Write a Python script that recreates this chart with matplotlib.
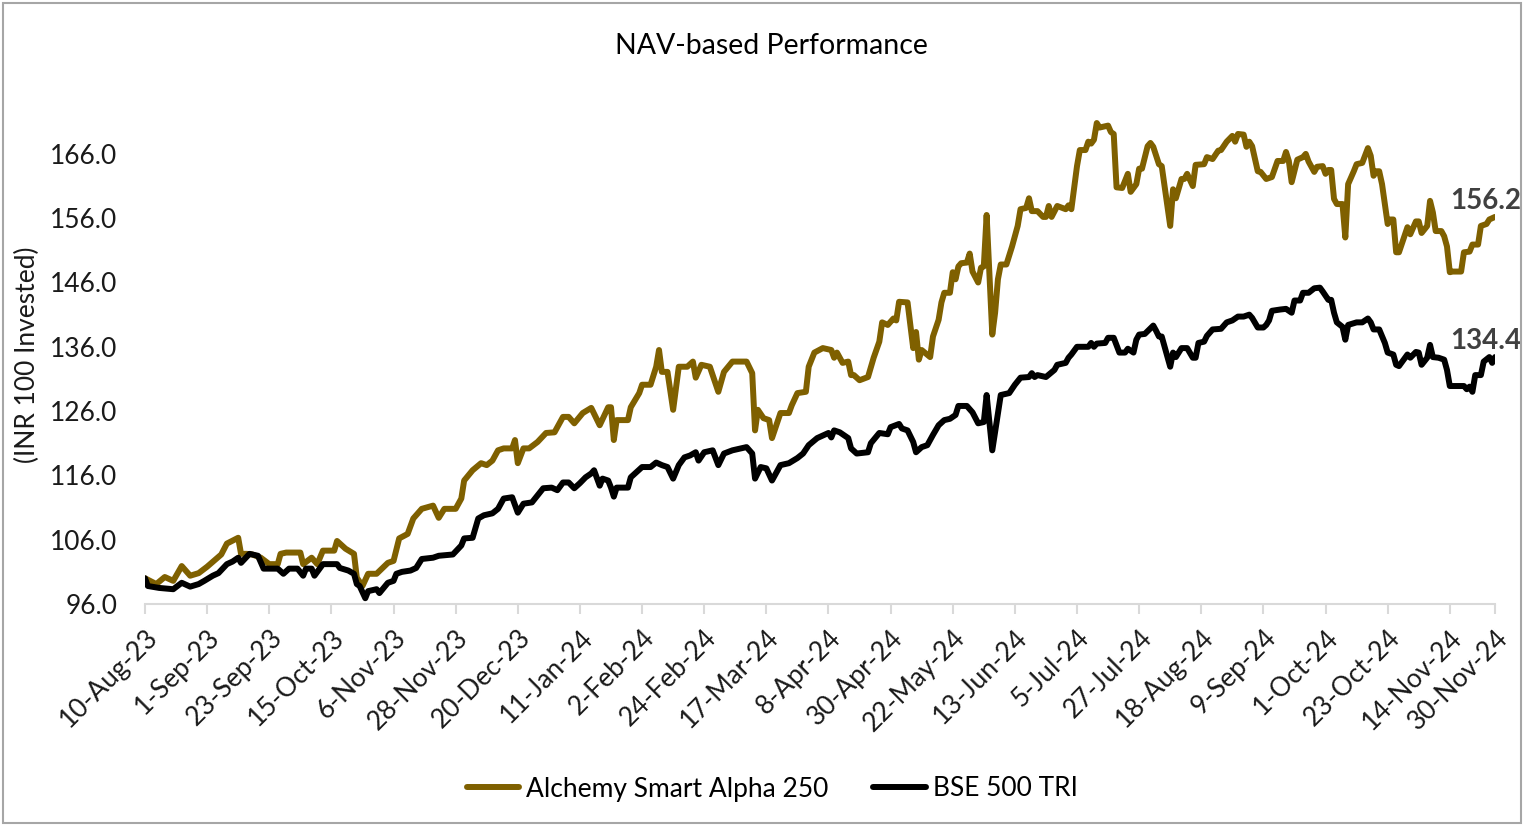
import pandas as pd
import matplotlib
matplotlib.use("Agg")
from matplotlib import pyplot as plt
from matplotlib.patches import Rectangle

plt.rcParams['font.family'] = ['Lato', 'DejaVu Sans']

# ---- data (days counted from the first date) ----
start_date = "10-Aug-23"

alpha_days = [0, 4, 7, 10, 13, 16, 19, 22, 27, 29, 33, 34, 36, 38, 41, 44, 47, 48, 50, 55,
              56, 59, 61, 63, 67, 68, 71, 74, 75, 77, 79, 82, 86, 88, 90, 93, 95, 98, 102, 104,
              106, 110, 112, 113, 116, 119, 121, 123, 125, 127, 130, 131, 132, 134, 136, 139, 142, 145, 148, 150,
              152, 155, 158, 161, 164, 165, 166, 167, 171, 172, 175, 176, 179, 181, 182, 183, 185, 187, 189, 192,
              194, 195, 197, 200, 203, 205, 208, 213, 215, 216, 217, 219, 221, 222, 225, 228, 229, 231, 234, 235,
              237, 240, 243, 244, 245, 247, 249, 250, 251, 253, 256, 258, 260, 261, 263, 265, 266, 267, 270, 272,
              273, 274, 275, 278, 279, 281, 282, 283, 285, 286, 287, 288, 289, 291, 292, 293, 295, 296, 297, 298,
              300, 301, 302, 303, 305, 307, 309, 310, 312, 313, 314, 316, 318, 319, 320, 321, 323, 326, 327, 328,
              330, 331, 333, 334, 335, 336, 337, 338, 341, 342, 343, 344, 346, 348, 349, 351, 352, 353, 355, 356,
              357, 359, 360, 363, 364, 365, 367, 368, 369, 371, 372, 375, 376, 378, 380, 381, 383, 385, 386, 387,
              389, 390, 391, 392, 394, 395, 397, 399, 401, 403, 404, 405, 406, 408, 410, 411, 412, 414, 415, 417,
              418, 419, 420, 421, 422, 424, 425, 426, 428, 429, 431, 433, 434, 435, 436, 437, 438, 440, 441, 442,
              443, 444, 447, 448, 450, 451, 452, 454, 455, 456, 457, 459, 460, 461, 462, 463, 466, 467, 469, 470,
              472, 473, 475, 476, 477, 478]
alpha_vals = [100.0, 99.1, 100.2, 99.6, 101.9, 100.4, 100.8, 101.8, 103.7, 105.4, 106.3, 103.8, 103.8, 103.7, 103.2, 102.2, 102.2, 103.8, 104.0, 104.0,
              102.2, 103.2, 102.2, 104.3, 104.3, 105.8, 104.6, 103.8, 100.1, 98.8, 100.7, 100.7, 102.4, 102.7, 106.2, 106.9, 109.3, 110.8, 111.3, 109.4,
              110.8, 110.8, 112.4, 115.2, 116.8, 117.9, 117.6, 118.3, 119.9, 120.2, 120.2, 121.5, 117.9, 120.2, 120.2, 121.2, 122.6, 122.7, 125.1, 125.1,
              124.1, 125.7, 126.5, 123.8, 126.6, 126.6, 121.5, 124.6, 124.6, 126.6, 128.8, 130.1, 130.1, 132.9, 135.5, 132.1, 132.1, 126.2, 132.9, 132.9,
              133.7, 131.2, 133.2, 132.9, 129.0, 132.1, 133.7, 133.7, 131.9, 123.0, 126.2, 124.9, 124.6, 121.8, 125.7, 125.7, 126.9, 128.8, 129.0, 132.9,
              135.1, 135.8, 135.5, 134.3, 135.1, 133.5, 133.7, 131.6, 131.6, 130.8, 131.3, 134.3, 136.8, 139.8, 139.4, 140.4, 140.1, 143.0, 142.9, 135.8,
              138.3, 134.0, 135.5, 134.4, 137.6, 140.2, 142.9, 144.4, 144.4, 147.6, 146.5, 148.5, 149.0, 149.1, 150.5, 147.7, 146.0, 148.3, 148.5, 156.5,
              137.9, 141.3, 146.5, 148.8, 148.8, 151.6, 154.8, 157.4, 157.6, 159.1, 157.1, 157.1, 156.2, 156.2, 157.9, 156.2, 157.9, 157.4, 158.0, 157.4,
              164.1, 166.6, 166.6, 167.9, 167.6, 168.2, 170.8, 170.1, 170.4, 169.4, 169.1, 160.8, 160.7, 162.9, 160.1, 161.3, 163.7, 163.7, 167.2, 167.7,
              167.1, 164.4, 164.1, 154.8, 160.5, 159.1, 162.1, 162.1, 162.9, 161.0, 164.3, 164.4, 165.5, 165.2, 166.5, 166.6, 167.9, 168.8, 167.9, 169.1,
              169.0, 167.1, 167.9, 167.2, 163.3, 163.2, 162.1, 162.4, 164.9, 164.9, 166.3, 164.9, 161.6, 165.1, 165.5, 166.0, 164.8, 163.2, 164.0, 164.1,
              162.9, 163.5, 163.5, 159.0, 158.2, 158.2, 153.0, 161.3, 163.3, 164.4, 164.6, 166.9, 165.7, 162.6, 163.3, 163.3, 161.3, 155.1, 155.8, 155.8,
              150.7, 150.7, 154.6, 153.5, 155.5, 155.5, 153.7, 154.8, 158.7, 156.9, 154.0, 154.0, 153.2, 151.6, 147.6, 147.7, 147.7, 150.7, 150.8, 151.9,
              151.9, 154.8, 155.1, 155.8, 156.0, 156.2]

bse_days = [0, 1, 5, 10, 13, 16, 19, 21, 24, 26, 29, 31, 33, 34, 37, 40, 42, 47, 49, 51,
            54, 56, 57, 59, 60, 63, 68, 69, 72, 74, 75, 76, 78, 79, 82, 83, 86, 88, 89, 91,
            94, 96, 98, 102, 104, 109, 112, 113, 116, 118, 120, 123, 125, 127, 130, 132, 134, 137, 139, 141,
            144, 146, 148, 150, 152, 154, 156, 158, 159, 161, 162, 164, 165, 166, 167, 171, 172, 174, 176, 179,
            181, 183, 185, 187, 189, 191, 193, 195, 196, 198, 201, 203, 205, 208, 211, 213, 215, 216, 218, 220,
            222, 225, 228, 231, 233, 235, 238, 242, 243, 244, 246, 249, 250, 252, 256, 257, 260, 263, 264, 267,
            268, 270, 272, 273, 275, 277, 279, 281, 283, 285, 287, 288, 291, 293, 295, 297, 298, 300, 302, 303,
            306, 308, 310, 313, 314, 315, 316, 319, 322, 323, 326, 327, 328, 330, 334, 335, 336, 337, 340, 341,
            343, 345, 347, 348, 350, 351, 352, 354, 357, 358, 359, 360, 363, 364, 365, 367, 369, 371, 372, 373,
            375, 376, 378, 381, 383, 385, 387, 389, 391, 392, 394, 396, 397, 398, 399, 402, 404, 406, 407, 409,
            410, 412, 414, 416, 417, 419, 420, 421, 422, 424, 425, 426, 429, 431, 433, 434, 435, 437, 439, 440,
            442, 443, 444, 447, 448, 450, 451, 452, 454, 455, 456, 458, 460, 461, 462, 465, 467, 468, 469, 470,
            471, 473, 474, 476, 477, 478]
bse_vals = [100.0, 98.8, 98.5, 98.3, 99.3, 98.7, 99.1, 99.6, 100.4, 100.8, 102.2, 102.6, 103.2, 102.4, 103.8, 103.5, 101.5, 101.5, 100.7, 101.5,
            101.5, 100.4, 101.5, 101.5, 100.4, 102.2, 102.2, 101.6, 101.2, 100.7, 99.1, 98.8, 96.9, 98.0, 98.3, 97.7, 99.3, 99.6, 100.7, 101.0,
            101.2, 101.6, 103.0, 103.2, 103.5, 103.7, 105.1, 106.2, 106.3, 109.3, 109.8, 110.1, 110.8, 112.4, 112.6, 110.2, 111.6, 111.8, 112.9, 114.0,
            114.1, 113.7, 114.9, 114.9, 114.0, 114.8, 115.7, 116.3, 116.8, 114.4, 115.5, 115.2, 114.1, 112.7, 114.1, 114.1, 115.7, 116.5, 117.3, 117.3,
            118.0, 117.6, 117.3, 115.5, 117.6, 118.8, 119.1, 119.6, 118.3, 119.6, 119.9, 117.6, 119.4, 119.9, 120.2, 120.4, 119.4, 115.5, 117.3, 117.1,
            115.2, 117.6, 117.9, 118.7, 119.4, 120.7, 121.8, 122.6, 121.9, 123.0, 122.7, 121.8, 120.2, 119.4, 119.6, 121.0, 122.6, 122.4, 123.5, 124.0,
            123.3, 123.0, 121.2, 119.6, 120.4, 120.7, 122.3, 123.8, 124.6, 124.8, 125.4, 126.8, 126.8, 125.8, 124.1, 124.3, 128.5, 119.9, 125.7, 128.5,
            128.8, 130.1, 131.2, 131.3, 131.9, 131.3, 131.6, 131.3, 132.4, 133.2, 133.5, 134.3, 134.8, 136.0, 136.0, 136.6, 136.0, 136.5, 136.6, 137.4,
            137.4, 135.1, 135.1, 135.7, 135.1, 137.1, 137.9, 138.0, 139.3, 138.5, 137.6, 137.6, 132.9, 135.1, 134.4, 135.8, 135.8, 134.3, 134.3, 136.6,
            136.8, 137.7, 138.7, 138.8, 139.8, 140.1, 140.7, 140.7, 141.0, 140.5, 139.0, 139.0, 139.4, 140.1, 141.6, 141.8, 141.9, 141.3, 143.2, 143.2,
            144.4, 144.4, 145.1, 145.2, 144.6, 143.3, 143.3, 141.3, 139.8, 139.1, 137.1, 139.4, 139.8, 139.8, 140.4, 139.8, 138.7, 138.7, 136.6, 135.1,
            134.8, 133.2, 133.0, 134.8, 134.3, 135.2, 135.1, 133.2, 134.3, 136.3, 134.4, 134.3, 134.0, 132.4, 129.9, 129.9, 129.9, 129.4, 129.8, 129.0,
            131.6, 131.6, 133.7, 134.4, 133.5, 134.4]

tick_labels = ["10-Aug-23", "1-Sep-23", "23-Sep-23", "15-Oct-23", "6-Nov-23", "28-Nov-23",
               "20-Dec-23", "11-Jan-24", "2-Feb-24", "24-Feb-24", "17-Mar-24", "8-Apr-24",
               "30-Apr-24", "22-May-24", "13-Jun-24", "5-Jul-24", "27-Jul-24", "18-Aug-24",
               "9-Sep-24", "1-Oct-24", "23-Oct-24", "14-Nov-24", "30-Nov-24"]
y_ticks = [96.0, 106.0, 116.0, 126.0, 136.0, 146.0, 156.0, 166.0]
series_names = ["Alchemy Smart Alpha 250", "BSE 500 TRI"]

GOLD = "#7F6000"
W, H = 1524, 826
FS = 19

t0 = pd.to_datetime(start_date, format="%d-%b-%y")
alpha_dates = t0 + pd.to_timedelta(alpha_days, unit="D")
bse_dates = t0 + pd.to_timedelta(bse_days, unit="D")
tick_dates = pd.to_datetime(tick_labels, format="%d-%b-%y")

fig = plt.figure(figsize=(W / 100, H / 100), dpi=100)
ax = fig.add_axes([145 / W, 1 - 604 / H, 1350 / W, (604 - 89.6) / H])

l1, = ax.plot(alpha_dates, alpha_vals, color=GOLD, lw=4.3,
              solid_capstyle="round", solid_joinstyle="round", label=series_names[0])
l2, = ax.plot(bse_dates, bse_vals, color="black", lw=4.3,
              solid_capstyle="round", solid_joinstyle="round", label=series_names[1])

ax.set_xlim(tick_dates[0], tick_dates[-1])
ax.set_ylim(96, 176)

# axes styling
for s in ["top", "right", "left"]:
    ax.spines[s].set_visible(False)
ax.spines["bottom"].set_color("#D9D9D9")
ax.spines["bottom"].set_linewidth(1.5)

ax.set_yticks(y_ticks)
ax.set_yticklabels([f"{v:.1f}" for v in y_ticks])
ax.tick_params(axis="y", length=0, pad=20, labelsize=FS, labelcolor="#1a1a1a")

ax.set_xticks(tick_dates)
ax.set_xticklabels(tick_labels, rotation=45, ha="right", va="top",
                   rotation_mode="anchor")
ax.tick_params(axis="x", direction="out", length=7, width=1.5, color="#D9D9D9",
               pad=8, labelsize=FS, labelcolor="#1a1a1a")

# end-point labels
for dates, vals in [(alpha_dates, alpha_vals), (bse_dates, bse_vals)]:
    ax.annotate(f"{vals[-1]:.1f}", xy=(dates[-1], vals[-1]), xytext=(-9, 3),
                textcoords="offset pixels", ha="center", va="bottom",
                fontsize=20, fontweight="bold", color="#404040",
                annotation_clip=False)

fig.text(771 / W, 1 - 46 / H, "NAV-based Performance", ha="center", va="center",
         fontsize=20.5, color="black")
fig.text(27 / W, 1 - 355 / H, "(INR 100 Invested)", rotation=90,
         ha="center", va="center", fontsize=FS, color="#1a1a1a")

fig.legend(handles=[l1, l2], loc="center", bbox_to_anchor=(0.5 + 10 / W, 1 - 789 / H),
           ncol=2, frameon=False, fontsize=FS, handlelength=2.0,
           handletextpad=0.25, columnspacing=1.7)

# chart border
fig.patches.append(Rectangle((3 / W, 3 / H), 1 - 6 / W, 1 - 6 / H,
                             transform=fig.transFigure, fill=False,
                             edgecolor="#A6A6A6", lw=1.5))

fig.savefig("out.png", dpi=100)
